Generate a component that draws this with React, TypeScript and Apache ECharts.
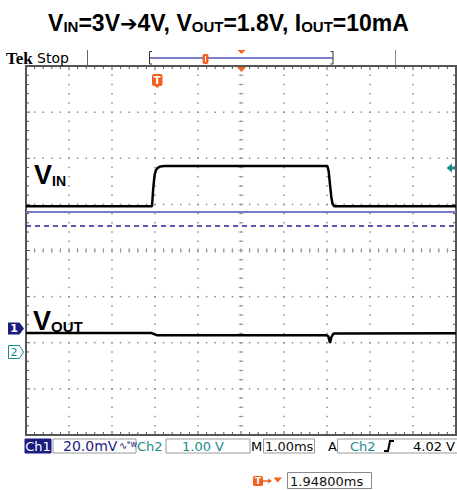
import React, { useEffect, useRef } from 'react';
import * as echarts from 'echarts';

// Time axis (ms from screen centre), 1.00 ms/div, 10 divisions
const X_MIN = -5;
const X_MAX = 5;
// Vertical axis in divisions, 8 divisions
const Y_MIN = -4;
const Y_MAX = 4;

// Ch2 (VIN): 1.00 V/div, ground marker offset in divisions
const CH2_V_PER_DIV = 1.0;
const CH2_OFFSET_DIV = -2.19;
const VIN_T = [-5, -2.07, -2.04, -2.01, -1.98, -1.94, -1.88, -1.78, 2.01, 2.04, 2.07, 2.1, 2.13, 2.17, 5];
const VIN_V = [3.15, 3.15, 3.55, 3.82, 3.93, 3.98, 4.01, 4.02, 4.02, 3.9, 3.62, 3.35, 3.2, 3.15, 3.15];

// Ch1 (VOUT): 20.0 mV/div AC, marker offset in divisions
const CH1_MV_PER_DIV = 20;
const CH1_OFFSET_DIV = -1.685;
const VOUT_T = [-5, -2.08, -1.96, 1.98, 2.03, 2.07, 2.1, 2.15, 5];
const VOUT_MV = [-2.1, -2.1, -3.0, -3.0, -3.5, -6.4, -4.0, -2.3, -2.2];

// Reference levels (divisions)
const REF_SOLID_DIV = 0.854;
const REF_DASH_DIV = 0.528;

const NAVY = '#1c1c80';
const TEAL = '#178c8c';
const ORANGE = '#f2601e';

export default function App() {
  const ref = useRef<HTMLDivElement>(null);
  useEffect(() => {
    if (!ref.current) return;
    const chart = echarts.init(ref.current, undefined, { renderer: 'svg' });

    const vin = VIN_T.map((t, i) => [t, CH2_OFFSET_DIV + VIN_V[i] / CH2_V_PER_DIV]);
    const vout = VOUT_T.map((t, i) => [t, CH1_OFFSET_DIV + VOUT_MV[i] / CH1_MV_PER_DIV]);

    const graticule = {
      type: 'custom',
      silent: true,
      z: 1,
      data: [[0, 0]],
      renderItem: (params: any, api: any) => {
        const ch: any[] = [];
        const P = (x: number, y: number) => api.coord([x, y]);
        const dot = (px: number, py: number) =>
          ch.push({ type: 'rect', shape: { x: px - 0.75, y: py - 0.75, width: 1.5, height: 1.5 }, style: { fill: '#8c8c8c' } });
        const seg = (x1: number, y1: number, x2: number, y2: number, c: string) =>
          ch.push({ type: 'line', shape: { x1, y1, x2, y2 }, style: { stroke: c, lineWidth: 1 } });
        const nx = (X_MAX - X_MIN) * 5;
        const ny = (Y_MAX - Y_MIN) * 5;
        // horizontal dotted lines
        for (let i = Y_MIN + 1; i < Y_MAX; i++) {
          for (let k = 1; k < nx; k++) {
            const [px, py] = P(X_MIN + k * 0.2, i);
            if (i === 0) {
              seg(px, py - 2.5, px, py + 2.5, '#a8a8a8');
            }
            dot(px, py);
          }
        }
        // vertical dotted lines
        for (let j = X_MIN + 1; j < X_MAX; j++) {
          for (let k = 1; k < ny; k++) {
            const [px, py] = P(j, Y_MIN + k * 0.2);
            if (j === 0) {
              seg(px - 2.5, py, px + 2.5, py, '#a8a8a8');
            }
            dot(px, py);
          }
        }
        // border ticks
        for (let k = 1; k < nx; k++) {
          const [px, pt] = P(X_MIN + k * 0.2, Y_MAX);
          const [, pb] = P(X_MIN + k * 0.2, Y_MIN);
          const L = k % 5 === 0 ? 4 : 3;
          seg(px, pt, px, pt + L, '#555');
          seg(px, pb, px, pb - L, '#555');
        }
        for (let k = 1; k < ny; k++) {
          const [pl, py] = P(X_MIN, Y_MIN + k * 0.2);
          const [pr] = P(X_MAX, Y_MIN + k * 0.2);
          const L = k % 5 === 0 ? 4 : 3;
          seg(pl, py, pl + L, py, '#555');
          seg(pr, py, pr - L, py, '#555');
        }
        return { type: 'group', children: ch };
      },
    };

    const txt = (text: string, x: number, y: number, o: any = {}) => ({
      type: 'text',
      x,
      y,
      silent: true,
      z: 100,
      style: {
        text,
        fill: o.fill || '#000',
        font: o.font || '13px "DejaVu Sans"',
        align: o.align || 'left',
        verticalAlign: 'middle',
      },
    });
    const box = (x: number, y: number, w: number, h: number, fill = 'none', stroke = '#9a9a9a') => ({
      type: 'rect',
      silent: true,
      z: 90,
      shape: { x, y, width: w, height: h },
      style: { fill, stroke, lineWidth: 1 },
    });

    const graphics: any[] = [
      // header
      txt('Tek', 6, 58.5, { font: 'bold 17px "Liberation Serif"' }),
      txt('Stop', 37, 57.5, { font: '14px "DejaVu Sans"' }),
      { type: 'line', silent: true, shape: { x1: 87.5, y1: 50, x2: 87.5, y2: 65 }, style: { stroke: '#666', lineWidth: 1 } },
      { type: 'line', silent: true, shape: { x1: 395.5, y1: 50, x2: 395.5, y2: 65 }, style: { stroke: '#888', lineWidth: 1 } },
      { type: 'polyline', silent: true, shape: { points: [[152, 51.5], [149.5, 51.5], [149.5, 64], [152, 64]] }, style: { stroke: '#333', lineWidth: 1, fill: 'none' } },
      { type: 'polyline', silent: true, shape: { points: [[330.5, 51.5], [333, 51.5], [333, 64], [330.5, 64]] }, style: { stroke: '#333', lineWidth: 1, fill: 'none' } },
      { type: 'line', silent: true, shape: { x1: 150, y1: 58, x2: 333, y2: 58 }, style: { stroke: '#5555b5', lineWidth: 1.5 } },
      { type: 'rect', silent: true, shape: { x: 202.5, y: 54, width: 6, height: 10, r: 2 }, style: { fill: ORANGE } },
      { type: 'line', silent: true, shape: { x1: 205.5, y1: 56, x2: 205.5, y2: 62 }, style: { stroke: '#fff', lineWidth: 1 } },
      { type: 'polygon', silent: true, shape: { points: [[237.5, 50], [245.5, 50], [241.5, 54]] }, style: { fill: ORANGE } },
      // graticule markers
      { type: 'polygon', silent: true, z: 100, shape: { points: [[237, 67], [246, 67], [241.5, 72]] }, style: { fill: ORANGE } },
      { type: 'rect', silent: true, z: 100, shape: { x: 152, y: 74, width: 10.5, height: 12, r: 2 }, style: { fill: ORANGE } },
      { type: 'polygon', silent: true, z: 100, shape: { points: [[155, 86], [159.5, 86], [157.25, 88]] }, style: { fill: ORANGE } },
      txt('T', 157.25, 80.5, { font: 'bold 10px "DejaVu Sans"', fill: '#fff', align: 'center' }),
      { type: 'polygon', silent: true, z: 100, shape: { points: [[446.5, 168], [452, 163.5], [452, 172.5]] }, style: { fill: TEAL } },
      { type: 'rect', silent: true, z: 100, shape: { x: 451, y: 166.5, width: 4, height: 3 }, style: { fill: TEAL } },
      // channel markers
      { type: 'polygon', silent: true, z: 100, shape: { points: [[8, 322.5], [19.5, 322.5], [24, 328.5], [19.5, 334.5], [8, 334.5]] }, style: { fill: NAVY } },
      txt('1', 14, 328.5, { font: 'bold 11px "DejaVu Sans"', fill: '#fff', align: 'center' }),
      { type: 'polygon', silent: true, z: 100, shape: { points: [[8.5, 345.5], [19.5, 345.5], [23.5, 352], [19.5, 358.5], [8.5, 358.5]] }, style: { fill: '#fff', stroke: TEAL, lineWidth: 1 } },
      txt('2', 14, 352, { font: '11px "DejaVu Sans"', fill: TEAL, align: 'center' }),
      // waveform labels
      {
        type: 'text', silent: true, z: 100, x: 34, y: 188,
        style: {
          text: '{b|V}{s|IN}', verticalAlign: 'bottom',
          rich: {
            b: { font: 'bold 27px "Liberation Sans"', fill: '#000', verticalAlign: 'bottom', lineHeight: 30 },
            s: { font: 'bold 14px "Liberation Sans"', fill: '#000', verticalAlign: 'bottom', lineHeight: 30 },
          },
        },
      },
      {
        type: 'text', silent: true, z: 100, x: 33, y: 334,
        style: {
          text: '{b|V}{s|OUT}', verticalAlign: 'bottom',
          rich: {
            b: { font: 'bold 27px "Liberation Sans"', fill: '#000', verticalAlign: 'bottom', lineHeight: 30 },
            s: { font: 'bold 15px "Liberation Sans"', fill: '#000', verticalAlign: 'bottom', lineHeight: 30 },
          },
        },
      },
      // status bar
      box(25, 439, 26, 14, NAVY, NAVY),
      txt('Ch1', 38, 446, { fill: '#fff', align: 'center' }),
      box(53, 439, 83, 14),
      txt('20.0mV', 63, 446, { fill: NAVY, font: '14px "DejaVu Sans"' }),
      txt('∿', 119, 445, { fill: NAVY, font: '10px "DejaVu Sans"' }),
      txt('ᴮw', 127, 444, { fill: NAVY, font: '8px "DejaVu Sans"' }),
      txt('Ch2', 137, 446, { fill: TEAL }),
      box(166, 439, 84, 14),
      txt('1.00 V', 182, 446, { fill: TEAL }),
      txt('M', 251, 446, { fill: '#000' }),
      box(263.5, 439, 51, 14),
      txt('1.00ms', 265, 446, { fill: '#111' }),
      txt('A', 328, 446, { fill: '#000' }),
      box(337.5, 439, 125, 14),
      txt('Ch2', 350, 446, { fill: TEAL }),
      { type: 'polyline', silent: true, z: 100, shape: { points: [[384, 451], [388, 451], [390, 441], [394, 441]] }, style: { stroke: '#000', lineWidth: 2, fill: 'none' } },
      txt('4.02 V', 413, 446, { fill: '#000' }),
      // trigger position readout
      { type: 'rect', silent: true, shape: { x: 253, y: 476, width: 10, height: 10, r: 1.5 }, style: { fill: ORANGE } },
      txt('T', 258, 481, { font: 'bold 9px "DejaVu Sans"', fill: '#fff', align: 'center' }),
      { type: 'line', silent: true, shape: { x1: 263, y1: 481, x2: 270, y2: 481 }, style: { stroke: ORANGE, lineWidth: 1.5 } },
      { type: 'polygon', silent: true, shape: { points: [[268, 478.5], [272, 481], [268, 483.5]] }, style: { fill: ORANGE } },
      { type: 'polygon', silent: true, shape: { points: [[273.5, 477.5], [282, 477.5], [277.75, 482.5]] }, style: { fill: ORANGE } },
      box(287.5, 472.5, 84, 16, 'none', '#888'),
      txt('1.94800ms', 290, 481, { fill: '#111' }),
    ];

    chart.setOption({
      animation: false,
      backgroundColor: '#fff',
      title: {
        left: 'center',
        top: 0,
        text: '{n|V}{s|IN}{n|=3V}{a|➔}{n|4V, V}{s|OUT}{n|=1.8V, I}{s|OUT}{n|=10mA}',
        textStyle: {
          rich: {
            n: { fontSize: 23, fontWeight: 'bold', fontFamily: '"Liberation Sans", Arial', color: '#000', verticalAlign: 'bottom', lineHeight: 29 },
            s: { fontSize: 15, fontWeight: 'bold', fontFamily: '"Liberation Sans", Arial', color: '#000', verticalAlign: 'bottom', lineHeight: 29 },
            a: { fontSize: 21, fontWeight: 'bold', fontFamily: '"DejaVu Sans"', color: '#000', verticalAlign: 'bottom', lineHeight: 29 },
          },
        },
      },
      grid: { left: 26, top: 66, width: 430, height: 369, show: true, borderColor: '#555', borderWidth: 2, backgroundColor: 'transparent' },
      xAxis: {
        type: 'value', min: X_MIN, max: X_MAX, interval: 1,
        axisLine: { show: false }, axisTick: { show: false }, axisLabel: { show: false }, splitLine: { show: false },
      },
      yAxis: {
        type: 'value', min: Y_MIN, max: Y_MAX, interval: 1,
        axisLine: { show: false }, axisTick: { show: false }, axisLabel: { show: false }, splitLine: { show: false },
      },
      series: [
        graticule,
        {
          type: 'line', name: 'ref', data: [], z: 2, silent: true,
          markLine: {
            silent: true, symbol: 'none', label: { show: false },
            data: [
              { yAxis: REF_SOLID_DIV, lineStyle: { color: '#7a7ac4', width: 2, type: 'solid' } },
              { yAxis: REF_DASH_DIV, lineStyle: { color: '#22229a', width: 1.5, type: [5, 4] } },
            ],
          },
        },
        { type: 'line', name: 'VIN', data: vin, showSymbol: false, z: 5, lineStyle: { color: '#000', width: 2.5 } },
        { type: 'line', name: 'VOUT', data: vout, showSymbol: false, z: 5, lineStyle: { color: '#000', width: 2.5 } },
      ],
      graphic: graphics,
    });
    return () => chart.dispose();
  }, []);
  return <div ref={ref} style={{ width: 457, height: 490, position: 'absolute', left: 0, top: 0 }} />;
}
